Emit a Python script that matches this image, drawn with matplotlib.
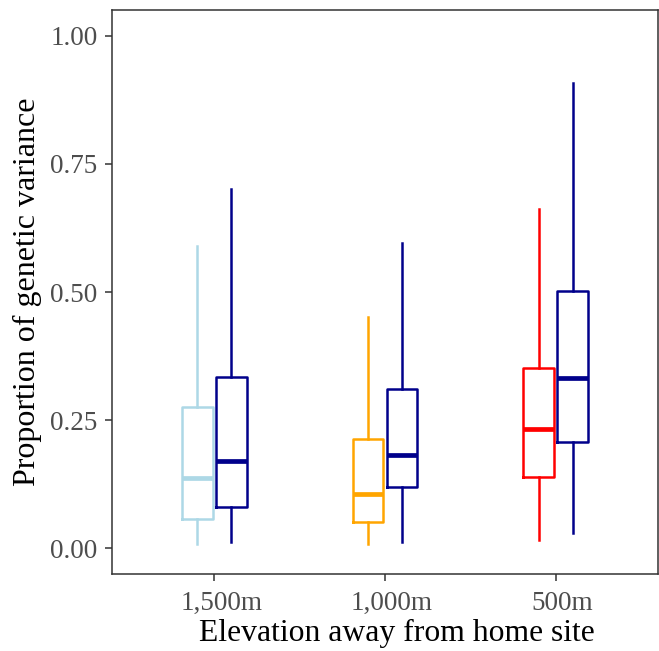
import numpy as np
import matplotlib
matplotlib.use("Agg")
import matplotlib.pyplot as plt
from matplotlib.transforms import ScaledTranslation

plt.rcParams['font.family'] = ['Liberation Serif', 'DejaVu Serif']

# Elevation groups (x categories)
groups = ['1,500m', '1,000m', '500m']

# Box statistics: low whisker, Q1, median, Q3, high whisker
away_low = [0.008, 0.008, 0.016]
away_q1 = [0.058, 0.051, 0.140]
away_med = [0.138, 0.107, 0.232]
away_q3 = [0.275, 0.214, 0.351]
away_high = [0.589, 0.452, 0.661]
away_colors = ['#ADD8E6', '#FFA500', '#FF0000']

home_low = [0.012, 0.012, 0.029]
home_q1 = [0.080, 0.119, 0.207]
home_med = [0.170, 0.183, 0.333]
home_q3 = [0.335, 0.310, 0.501]
home_high = [0.700, 0.596, 0.908]
home_color = '#00008B'


def make_stats(lo, q1, med, q3, hi):
    return [dict(whislo=a, q1=b, med=c, q3=d, whishi=e, fliers=[])
            for a, b, c, d, e in zip(lo, q1, med, q3, hi)]


fig = plt.figure(figsize=(6.59, 6.51), dpi=100)
ax = fig.add_axes([112 / 659, 1 - 574 / 651, 546 / 659, 564 / 651])

ind = np.arange(1, len(groups) + 1)
offset = 0.1
width = 0.18
lw = 1.8

away_stats = make_stats(away_low, away_q1, away_med, away_q3, away_high)
home_stats = make_stats(home_low, home_q1, home_med, home_q3, home_high)

for i, st in enumerate(away_stats):
    c = away_colors[i]
    ax.bxp([st], positions=[ind[i] - offset], widths=width, showcaps=False,
           showfliers=False,
           boxprops=dict(color=c, linewidth=lw),
           whiskerprops=dict(color=c, linewidth=lw),
           medianprops=dict(color=c, linewidth=3.4, solid_capstyle='butt'))

ax.bxp(home_stats, positions=ind + offset, widths=width, showcaps=False,
       showfliers=False,
       boxprops=dict(color=home_color, linewidth=lw),
       whiskerprops=dict(color=home_color, linewidth=lw),
       medianprops=dict(color=home_color, linewidth=3.4, solid_capstyle='butt'))

ax.set_xlim(0.4, 3.6)
ax.set_ylim(-0.05, 1.05)
ax.set_xticks(ind)
ax.set_xticklabels(groups)
ax.set_yticks([0, 0.25, 0.5, 0.75, 1.0])
ax.set_yticklabels(['0.00', '0.25', '0.50', '0.75', '1.00'])
ax.tick_params(labelsize=19.5, labelcolor='#4D4D4D', color='#333333',
               length=5, width=1.1)
ax.tick_params(axis='x', pad=7)
ax.tick_params(axis='y', pad=5.5)

# the original's x labels sit a little right of their ticks
shift = ScaledTranslation(7 / 100, 0, fig.dpi_scale_trans)
for lab in ax.get_xticklabels():
    lab.set_transform(lab.get_transform() + shift)

for sp in ax.spines.values():
    sp.set_color('#333333')
    sp.set_linewidth(1.1)

ax.set_xlabel('Elevation away from home site', fontsize=22.8)
ax.xaxis.set_label_coords(0.522, -0.079)
ax.set_ylabel('Proportion of genetic variance', fontsize=23, labelpad=6)

fig.savefig('out.png', dpi=100)
